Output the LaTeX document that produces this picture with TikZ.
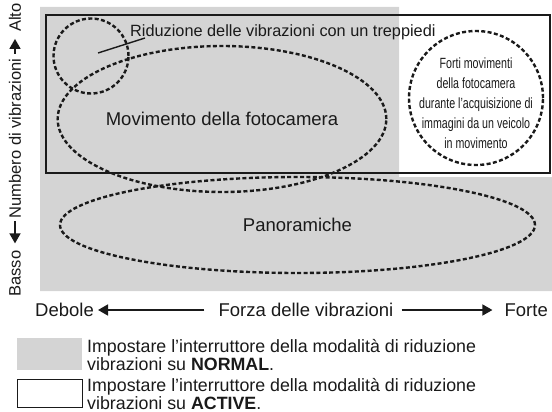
\documentclass[tikz,border=0pt]{standalone}
\usepackage{fontspec}
\setsansfont{Liberation Sans}
\newfontfamily\narrowsf[FakeStretch=0.72]{Liberation Sans}
\usetikzlibrary{arrows.meta,shapes.geometric}
\definecolor{vrink}{HTML}{1A1A1A}
\definecolor{vrgray}{HTML}{D4D4D4}

\begin{document}
\begin{tikzpicture}[x=1pt, y=-1pt, font=\sffamily, text=vrink,
    shakezone/.style={draw=vrink, line width=2.4pt, dash pattern=on 4pt off 2.4pt, inner sep=0pt},
    activeframe/.style={draw=vrink, line width=1.6pt},
    forcearrow/.style={draw=vrink, line width=1.6pt, -{Triangle[length=10pt, width=11pt]}},
    biglabel/.style={font=\sffamily\fontsize{18.5}{22}\selectfont, inner sep=0pt},
    axislabel/.style={font=\sffamily\fontsize{16.5}{20}\selectfont, inner sep=0pt, rotate=90},
    legendtext/.style={font=\sffamily\fontsize{17.8}{15.5}\selectfont, inner sep=0pt, align=left, anchor=west},
  ]
  \useasboundingbox (0,0) rectangle (552,412);

  % NORMAL area: grey L shape, drawn first
  \fill[vrgray] (40,7) -- (399,7) -- (399,177) -- (552,177) -- (552,291) -- (40,291) -- cycle;

  % ACTIVE area
  \draw[activeframe] (46,15) rectangle (550,173);

  % vibration zones
  \node[shakezone, circle, minimum size=75pt] (tripodzone) at (91,56) {};
  \node[shakezone, ellipse, minimum width=321pt, minimum height=146pt, biglabel]
    (camera) at (222,119) {Movimento della fotocamera};
  \node[shakezone, ellipse, minimum width=475pt, minimum height=96pt, biglabel]
    (pan) at (297.5,225) {Panoramiche};
  \node[shakezone, circle, minimum size=134pt] (vehicle) at (476,98) {};
  \node[align=center, font=\narrowsf\fontsize{14.8}{20}\selectfont, inner sep=0pt]
    (vehicletext) at (476,103)
    {Forti movimenti\\della fotocamera\\durante l’acquisizione di\\immagini da un veicolo\\in movimento};

  % tripod label with its leader
  \node[anchor=base west, font=\sffamily\fontsize{16.3}{20}\selectfont, inner sep=0pt]
    (tripod) at (130,37) {Riduzione delle vibrazioni con un treppiedi};
  \coordinate (leadfoot) at (98,53);
  \coordinate (leadtip) at (145,38);
  \draw[vrink, line width=1.4pt] (leadfoot) -- (leadtip);

  % vertical scale: number of vibrations
  \node[axislabel] (alto) at (15,17.5) {Alto};
  \node[axislabel] (count) at (15,138.5) {Numbero di vibrazioni};
  \node[axislabel] (basso) at (15,273.5) {Basso};
  \draw[forcearrow, shorten <=5pt, shorten >=7pt] (count.east) -- (alto.west);
  \draw[forcearrow, shorten <=3pt, shorten >=7pt] (count.west) -- (basso.east);

  % horizontal scale: strength of vibrations
  \node[biglabel, anchor=west] (weak) at (35,310) {Debole};
  \node[biglabel] (force) at (306,310) {Forza delle vibrazioni};
  \node[biglabel, anchor=east] (strong) at (548,310) {Forte};
  \draw[forcearrow, shorten <=14pt, shorten >=4pt] (force.west) -- (weak.east);
  \draw[forcearrow, shorten <=8pt, shorten >=12pt] (force.east) -- (strong.west);

  % legend
  \node[fill=vrgray, minimum width=65pt, minimum height=32pt, inner sep=0pt] (normalkey) at (49.5,354) {};
  \node[legendtext] (normaltext) at (87,355)
    {Impostare l’interruttore della modalità di riduzione\\vibrazioni su \textbf{NORMAL}.};
  \node[draw=vrink, line width=1pt, minimum width=65pt, minimum height=28pt, inner sep=0pt] (activekey) at (49.5,393) {};
  \node[legendtext] (activetext) at (87,394)
    {Impostare l’interruttore della modalità di riduzione\\vibrazioni su \textbf{ACTIVE}.};
\end{tikzpicture}
\end{document}
